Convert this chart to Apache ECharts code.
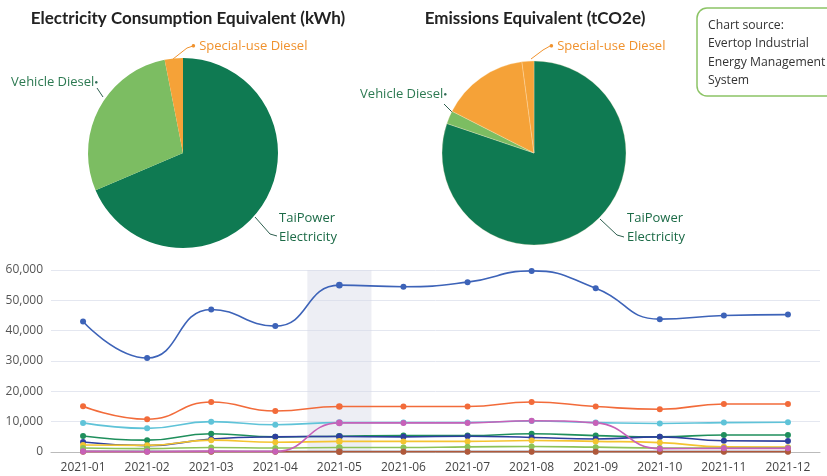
<!DOCTYPE html>
<html>
<head>
<meta charset="utf-8">
<script src="https://cdn.jsdelivr.net/npm/echarts@6/dist/echarts.min.js"></script>
<style>
  html, body { margin: 0; padding: 0; background: #fff; }
  #main { width: 827px; height: 476px; }
</style>
</head>
<body>
<div id="main"></div>
<script>
// pie data (share of total)
var pieNames = ['TaiPower Electricity', 'Vehicle Diesel', 'Special-use Diesel'];
var energyValues = [68.6, 28.3, 3.1];
var emissionNames = ['TaiPower Electricity', 'Vehicle Diesel', 'Other Diesel', 'Special-use Diesel'];
var emissionValues = [80.2, 2.3, 15.4, 2.1];

// monthly trend
var months = ['2021-01', '2021-02', '2021-03', '2021-04', '2021-05', '2021-06',
  '2021-07', '2021-08', '2021-09', '2021-10', '2021-11', '2021-12'];
var seriesBlue = [43000, 31000, 47000, 41500, 55000, 54500, 56000, 59700, 54000, 43800, 45000, 45300];
var seriesOrange = [15100, 10800, 16500, 13500, 15000, 15000, 15000, 16500, 15000, 14100, 15800, 15800];
var seriesCyan = [9600, 7800, 10000, 9000, 9700, 9700, 9700, 10200, 9700, 9400, 9700, 9800];
var seriesGreen = [5300, 3900, 6000, 5000, 5200, 5400, 5400, 6000, 5400, 5000, 5600, 5600];
var seriesNavy = [3300, 2100, 4300, 5000, 5100, 5000, 5200, 4800, 4300, 5000, 3700, 3600];
var seriesYellow = [2300, 2200, 3900, 3200, 3500, 3500, 3500, 3800, 3500, 3100, 1700, 1600];
var seriesLime = [1300, 1100, 1500, 1300, 1500, 1500, 1700, 1800, 1600, 1300, 1300, 1400];
var seriesGray = [300, 300, 200, 200, 200, 200, 200, 200, 200, 200, 200, 200];
var seriesBrown = [100, 100, 100, 100, 100, 100, 100, 100, 100, 100, 100, 100];
var seriesPink = [200, 100, 300, 200, 9600, 9600, 9600, 10300, 9600, 1100, 1200, 1200];

var yTicks = [0, 10000, 20000, 30000, 40000, 50000, 60000];

var darkGreen = '#0f7a52';
var lightGreen = '#7cbd62';
var orange = '#f5a238';
var FONT = 'Open Sans';

// label placement: [x, y, align, line points]
var energyLabels = [
  [279, 228, 'left', [[255, 217], [270, 234], [277, 236]]],
  [98, 82, 'right', [[103, 97], [97, 88]]],
  [191, 46, 'left', [[173, 59], [187, 48], [193, 46]]]
];
var emissionLabels = [
  [627, 228, 'left', [[600, 219], [617, 235], [624, 237]]],
  [447, 94, 'right', [[452, 112], [444, 104]]],
  null,
  [549, 46, 'left', [[531, 59], [543, 50], [550, 46]]]
];

function layoutFrom(list) {
  return function (p) {
    var l = list[p.dataIndex];
    if (!l) return {};
    return { x: l[0], y: l[1], align: l[2], verticalAlign: 'middle', labelLinePoints: l[3] };
  };
}

var richDot = {
  o: { color: '#f0922e', fontSize: 8, fontFamily: FONT },
  g: { color: '#2e6b55', fontSize: 6, fontFamily: FONT }
};

function pieData(names, values, colors, labelColors, formatters) {
  return names.map(function (n, i) {
    var item = { name: n, value: values[i], itemStyle: { color: colors[i] } };
    if (labelColors[i]) {
      item.label = { color: labelColors[i], formatter: formatters[i] };
      item.labelLine = { lineStyle: { color: labelColors[i] === '#f0922e' ? '#f0922e' : '#2e5f4f' } };
    } else {
      item.label = { show: false };
      item.labelLine = { show: false };
    }
    return item;
  });
}

var chart = echarts.init(document.getElementById('main'));

function lineSeries(name, data, color) {
  return {
    name: name, type: 'line', data: data, smooth: true,
    symbol: 'circle', symbolSize: 6, z: 5,
    lineStyle: { width: 1.6, color: color },
    itemStyle: { color: color },
    emphasis: { disabled: true }
  };
}

chart.setOption({
  animation: false,
  textStyle: { fontFamily: FONT },
  title: [
    { text: 'Electricity Consumption Equivalent (kWh)', left: 183, top: 5, textAlign: 'center',
      textStyle: { fontSize: 17, fontWeight: 'bold', color: '#222', fontFamily: 'Lato' } },
    { text: 'Emissions Equivalent (tCO2e)', left: 530, top: 5, textAlign: 'center',
      textStyle: { fontSize: 17, fontWeight: 'bold', color: '#222', fontFamily: 'Lato' } }
  ],
  graphic: [
    { type: 'rect', shape: { x: 697, y: 8, width: 140, height: 88, r: 10 },
      style: { fill: '#fff', stroke: '#8cc466', lineWidth: 1.5 } },
    { type: 'text', x: 708, y: 16,
      style: { text: 'Chart source:\nEvertop Industrial\nEnergy Management\nSystem',
        fill: '#333', fontSize: 12.2, lineHeight: 18.5, fontFamily: FONT } }
  ],
  tooltip: {
    trigger: 'axis', showContent: false,
    axisPointer: { type: 'shadow', z: 0, shadowStyle: { color: 'rgba(215,218,230,0.45)' } }
  },
  grid: { left: 51, right: 7, top: 270, bottom: 24 },
  xAxis: {
    type: 'category', data: months, boundaryGap: true,
    axisLine: { lineStyle: { color: '#bbb' } },
    axisTick: { show: false },
    axisLabel: { color: '#444', fontSize: 12, margin: 10 }
  },
  yAxis: {
    type: 'value', min: yTicks[0], max: yTicks[yTicks.length - 1], interval: 10000,
    axisLabel: { color: '#555', fontSize: 12, margin: 8,
      formatter: function (v) { return v.toLocaleString('en-US'); } },
    splitLine: { lineStyle: { color: '#e4e7f0' } }
  },
  series: [
    {
      type: 'pie', center: [183, 153], radius: 95, startAngle: 90,
      label: { fontSize: 13, fontFamily: FONT, lineHeight: 19, rich: richDot, overflow: 'none' },
      labelLine: { show: true, lineStyle: { width: 1 } },
      labelLayout: layoutFrom(energyLabels),
      emphasis: { disabled: true },
      data: pieData(pieNames, energyValues, [darkGreen, lightGreen, orange],
        ['#1c6b47', '#2d7a52', '#f0922e'],
        ['TaiPower\nElectricity', 'Vehicle Diesel{g|●}', '{o|●} Special-use Diesel'])
    },
    {
      type: 'pie', center: [534, 153], radius: 92, startAngle: 90,
      label: { fontSize: 13, fontFamily: FONT, lineHeight: 19, rich: richDot, overflow: 'none' },
      labelLine: { show: true, lineStyle: { width: 1 } },
      labelLayout: layoutFrom(emissionLabels),
      itemStyle: { borderColor: 'rgba(255,235,200,0.6)', borderWidth: 0.5 },
      emphasis: { disabled: true },
      data: pieData(emissionNames, emissionValues, [darkGreen, lightGreen, orange, orange],
        ['#1c6b47', '#2d7a52', null, '#f0922e'],
        ['TaiPower\nElectricity', 'Vehicle Diesel{g|●}', '', '{o|●} Special-use Diesel'])
    },
    lineSeries('Total', seriesBlue, '#3d63b8'),
    lineSeries('A', seriesOrange, '#f26b3a'),
    lineSeries('B', seriesCyan, '#5fc3d8'),
    lineSeries('C', seriesGreen, '#1f8f5c'),
    lineSeries('D', seriesNavy, '#2e3f9e'),
    lineSeries('E', seriesYellow, '#f4c430'),
    lineSeries('F', seriesLime, '#8dc256'),
    lineSeries('G', seriesGray, '#9a9aa8'),
    lineSeries('H', seriesBrown, '#b0593a'),
    lineSeries('I', seriesPink, '#c761b8')
  ]
});

chart.dispatchAction({ type: 'showTip', seriesIndex: 2, dataIndex: 4 });
</script>
</body>
</html>
